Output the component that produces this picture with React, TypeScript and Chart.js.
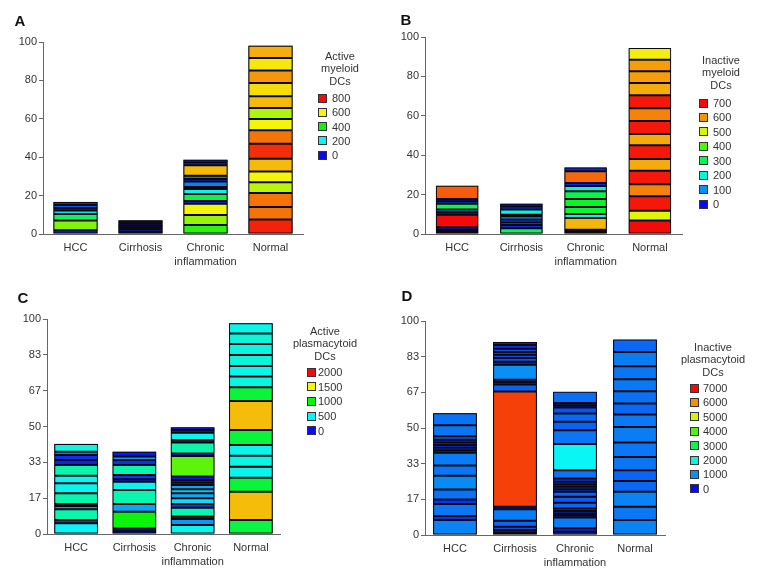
import React, { useEffect, useRef } from "react";
import { Chart, registerables } from "chart.js";
Chart.register(...registerables);

// ---------- data ----------
const categories = [["HCC"], ["Cirrhosis"], ["Chronic", "inflammation"], ["Normal"]];

const tickLabelsAB = ["0", "20", "40", "60", "80", "100"];
const tickLabelsCD = ["0", "17", "33", "50", "67", "83", "100"];

// A: Active myeloid DCs (segment top boundaries in %, and segment intensity)
const aHccTops = [1.9, 7, 10.4, 12.2, 13.5, 15.1, 16.7];
const aHccLevels = [20, 500, 330, 180, 20, 70, 30];
const aCirTops = [1.1, 2.3, 3.1, 4.2, 5.3, 6.2, 7.1];
const aCirLevels = [10, 30, 150, 20, 0, 30, 10];
const aChrTops = [4.7, 9.9, 15.8, 17.2, 20.8, 23.4, 24.5, 27.3, 28.6, 30.4, 35.8, 37.3, 38.7];
const aChrLevels = [430, 520, 600, 30, 350, 210, 20, 100, 20, 90, 650, 40, 20];
const aNorTops = [7.5, 14.1, 21.4, 26.9, 32.6, 39.2, 47, 54, 59.9, 65.6, 71.7, 78.6, 85.2, 91.7, 98.1];
const aNorLevels = [780, 710, 710, 550, 600, 650, 770, 710, 600, 540, 650, 620, 680, 610, 660];
const aLegend = [800, 600, 400, 200, 0];

// B: Inactive myeloid DCs
const bHccTops = [1.1, 2.2, 3.4, 9.8, 11, 12.4, 15.4, 16.6, 17.8, 24.5];
const bHccLevels = [200, 180, 20, 700, 20, 100, 300, 40, 20, 640];
const bCirTops = [2.9, 4.6, 5.9, 7.3, 9, 9.8, 12.4, 13.9, 15.4];
const bCirLevels = [290, 20, 90, 40, 100, 20, 200, 30, 10];
const bChrTops = [1.1, 2.2, 8.1, 10.2, 13.7, 17.8, 21.7, 24.4, 25.9, 31.8, 33.8];
const bChrLevels = [200, 180, 570, 200, 320, 330, 300, 200, 20, 630, 20];
const bNorTops = [6.8, 11.8, 19.1, 25.2, 32.1, 38.1, 45, 50.8, 57.4, 63.8, 70.4, 76.6, 82.6, 88.5, 94.4];
const bNorLevels = [700, 510, 690, 610, 690, 580, 690, 580, 690, 610, 690, 580, 590, 590, 530];
const bLegend = [700, 600, 500, 400, 300, 200, 100, 0];

// C: Active plasmacytoid DCs
const cHccTops = [5, 6.5, 11.5, 13, 14, 18.9, 23.6, 27.1, 32.1, 34.4, 36.7, 38.3, 41.9];
const cHccLevels = [500, 100, 660, 300, 50, 650, 520, 500, 650, 50, 80, 250, 540];
const cCirTops = [1.3, 2.6, 10.4, 14, 20.5, 24.3, 25.5, 27.4, 32.1, 34.4, 36, 38.3];
const cCirLevels = [100, 50, 1000, 330, 650, 520, 50, 100, 650, 80, 300, 30];
const cChrTops = [4.2, 7, 8.1, 12.2, 14, 16.6, 18.9, 20.8, 22.8, 24, 25.1, 26.7, 36.3, 37.5, 42.6, 43.7, 47.1, 48.4, 49.6];
const cChrLevels = [520, 300, 50, 650, 100, 450, 350, 400, 330, 50, 100, 30, 1170, 40, 650, 40, 520, 30, 20];
const cNorTops = [6.5, 19.7, 26.2, 31.3, 36.4, 41.4, 48.4, 61.9, 68.2, 73.2, 78.1, 83.3, 88.4, 93.3, 98];
const cNorLevels = [880, 1620, 900, 520, 540, 520, 900, 1620, 900, 540, 520, 560, 540, 560, 520];
const cLegend = [2000, 1500, 1000, 500, 0];

// D: Inactive plasmacytoid DCs
const dHccTops = [7, 8.9, 14.5, 16.6, 21.3, 27.7, 32.5, 38.4, 39.6, 40.8, 42, 43.2, 44.5, 46.2, 51.3, 56.9];
const dHccLevels = [900, 300, 820, 300, 780, 950, 800, 850, 300, 500, 200, 400, 250, 600, 800, 780];
const dCirTops = [1.2, 2.3, 3.9, 6.7, 12, 13.2, 67, 70.3, 71.5, 72.6, 79.6, 81, 82.7, 84.2, 85.5, 87, 88.8, 90.2];
const dCirLevels = [300, 200, 500, 700, 850, 300, 6600, 650, 200, 300, 1000, 200, 550, 450, 550, 500, 300, 100];
const dChrTops = [1.5, 3.1, 8.2, 9.2, 10.1, 11.2, 12.4, 15.1, 17.9, 20.2, 21.4, 22.6, 23.7, 24.9, 26.4, 30.3, 42.5, 49, 52.9, 56.8, 59.6, 60.6, 61.7, 66.9];
const dChrLevels = [300, 200, 850, 300, 400, 200, 500, 700, 600, 650, 300, 400, 200, 500, 300, 800, 1750, 800, 650, 700, 550, 300, 200, 750];
const dNorTops = [7, 13.2, 20.2, 25.2, 30.3, 36.5, 43.2, 50.5, 56.3, 61.4, 67.2, 72.8, 78.8, 85.5, 91.3];
const dNorLevels = [900, 820, 900, 700, 680, 800, 820, 860, 830, 700, 760, 830, 800, 860, 700];
const dLegend = [7000, 6000, 5000, 4000, 3000, 2000, 1000, 0];

// ---------- styling ----------
const FONT = "'Liberation Sans', Arial, sans-serif";
const TEXT = "#333";
const AXIS = "#666";
const EDGE = "#0a0a10";

function heat(v: number, max: number) {
  const t = Math.max(0, Math.min(1, v / max));
  return `hsl(${240 * (1 - t)}, 92%, 50%)`;
}

// fills a dark backdrop behind each stacked bar so that sub-pixel seams between segments stay dark
const backdropPlugin = {
  id: "stackBackdrop",
  beforeDatasetsDraw(chart: any) {
    const ctx = chart.ctx;
    const n = chart.data.labels.length;
    ctx.save();
    ctx.fillStyle = EDGE;
    for (let i = 0; i < n; i++) {
      let top = Infinity;
      let bottom = -Infinity;
      let x = 0;
      let w = 0;
      chart.data.datasets.forEach((_d: any, k: number) => {
        const el = chart.getDatasetMeta(k).data[i];
        if (!el || el.y == null || isNaN(el.y) || chart.data.datasets[k].data[i] == null) return;
        top = Math.min(top, el.y, el.base);
        bottom = Math.max(bottom, el.y, el.base);
        x = el.x;
        w = el.width;
      });
      if (isFinite(top)) ctx.fillRect(x - w / 2, top, w, bottom - top);
    }
    ctx.restore();
  },
};

type PanelProps = {
  letter: string;
  letterX: number;
  letterY: number;
  left: number;
  top: number;
  width: number;
  height: number;
  yWidth: number;
  xHeight: number;
  padTop: number;
  padRight: number;
  barPct: number;
  tops: number[][];
  levels: number[][];
  max: number;
  tickLabels: string[];
  legendTitle: string[];
  legendValues: number[];
  titleX: number;
  titleY0: number;
  squareX: number;
  textX: number;
  rowY0: number;
  rowStep: number;
};

function Panel(p: PanelProps) {
  const ref = useRef<HTMLCanvasElement>(null);
  useEffect(() => {
    const n = Math.max(...p.tops.map((t) => t.length));
    const datasets: any[] = [];
    for (let k = 0; k < n; k++) {
      datasets.push({
        data: p.tops.map((t) => (k < t.length ? t[k] - (k ? t[k - 1] : 0) : null)),
        backgroundColor: p.levels.map((l) => (k < l.length ? heat(l[k], p.max) : "transparent")),
        borderColor: EDGE,
        borderWidth: 1,
        borderSkipped: false,
        categoryPercentage: 1,
        barPercentage: p.barPct,
      });
    }
    const nt = p.tickLabels.length - 1;
    const chart = new Chart(ref.current as HTMLCanvasElement, {
      type: "bar",
      data: { labels: categories as any, datasets },
      plugins: [backdropPlugin as any],
      options: {
        responsive: false,
        animation: false,
        layout: { padding: { left: 0, top: p.padTop, right: p.padRight, bottom: 0 } },
        plugins: { legend: { display: false }, tooltip: { enabled: false } },
        scales: {
          x: {
            stacked: true,
            grid: { display: false, drawTicks: false },
            border: { display: true, color: AXIS, width: 1 },
            ticks: { font: { family: FONT, size: 11, lineHeight: 1.36 }, color: TEXT, padding: 6, maxRotation: 0, autoSkip: false },
            afterFit: (s: any) => {
              s.height = p.xHeight;
            },
          },
          y: {
            stacked: true,
            min: 0,
            max: 100,
            grid: { display: true, drawOnChartArea: false, drawTicks: true, tickLength: 4, color: AXIS },
            border: { display: true, color: AXIS, width: 1 },
            ticks: {
              font: { family: FONT, size: 11 },
              color: TEXT,
              padding: 2,
              callback: (_v: any, i: number) => p.tickLabels[i],
            },
            afterBuildTicks: (s: any) => {
              s.ticks = p.tickLabels.map((_l, i) => ({ value: (i * 100) / nt }));
            },
            afterFit: (s: any) => {
              s.width = p.yWidth;
            },
          },
        },
      } as any,
    });
    return () => chart.destroy();
  }, []);

  const abs = (x: number, y: number): React.CSSProperties => ({ position: "absolute", left: x, top: y });
  return (
    <>
      <canvas
        ref={ref}
        width={p.width}
        height={p.height}
        style={{ position: "absolute", left: p.left, top: p.top, width: p.width, height: p.height }}
      />
      <div
        style={{
          ...abs(p.letterX, p.letterY),
          transform: "translate(-50%, -50%)",
          font: `bold 15px ${FONT}`,
          color: "#111",
        }}
      >
        {p.letter}
      </div>
      {p.legendTitle.map((line, i) => (
        <div
          key={"t" + i}
          style={{
            ...abs(p.titleX, p.titleY0 + i * 12.3),
            transform: "translate(-50%, -50%)",
            font: `11px ${FONT}`,
            color: TEXT,
            whiteSpace: "nowrap",
            lineHeight: "12px",
          }}
        >
          {line}
        </div>
      ))}
      {p.legendValues.map((v, i) => {
        const cy = p.rowY0 + i * p.rowStep;
        return (
          <React.Fragment key={"l" + i}>
            <div
              style={{
                ...abs(p.squareX, cy - 4.5),
                width: 7,
                height: 7,
                border: "1px solid #333",
                background: heat(v, p.max),
              }}
            />
            <div
              style={{
                ...abs(p.textX, cy - 6),
                font: `11px ${FONT}`,
                color: TEXT,
                lineHeight: "12px",
                whiteSpace: "nowrap",
              }}
            >
              {String(v)}
            </div>
          </React.Fragment>
        );
      })}
    </>
  );
}

export default function App() {
  return (
    <div style={{ position: "absolute", left: 0, top: 0, width: 760, height: 578, background: "#fff" }}>
      <Panel
        letter="A" letterX={20} letterY={20}
        left={0} top={0} width={380} height={275}
        yWidth={43} xHeight={41} padTop={42} padRight={77} barPct={0.68}
        tops={[aHccTops, aCirTops, aChrTops, aNorTops]}
        levels={[aHccLevels, aCirLevels, aChrLevels, aNorLevels]}
        max={800} tickLabels={tickLabelsAB}
        legendTitle={["Active", "myeloid", "DCs"]} legendValues={aLegend}
        titleX={340} titleY0={56} squareX={318} textX={332} rowY0={98} rowStep={14.3}
      />
      <Panel
        letter="B" letterX={406} letterY={19}
        left={380} top={0} width={380} height={275}
        yWidth={45} xHeight={41} padTop={37} padRight={78} barPct={0.66}
        tops={[bHccTops, bCirTops, bChrTops, bNorTops]}
        levels={[bHccLevels, bCirLevels, bChrLevels, bNorLevels]}
        max={700} tickLabels={tickLabelsAB}
        legendTitle={["Inactive", "myeloid", "DCs"]} legendValues={bLegend}
        titleX={721} titleY0={60} squareX={699} textX={713} rowY0={103} rowStep={14.43}
      />
      <Panel
        letter="C" letterX={23} letterY={297}
        left={0} top={280} width={380} height={298}
        yWidth={47} xHeight={44} padTop={39} padRight={100} barPct={0.75}
        tops={[cHccTops, cCirTops, cChrTops, cNorTops]}
        levels={[cHccLevels, cCirLevels, cChrLevels, cNorLevels]}
        max={2000} tickLabels={tickLabelsCD}
        legendTitle={["Active", "plasmacytoid", "DCs"]} legendValues={cLegend}
        titleX={325} titleY0={331} squareX={307} textX={318} rowY0={372} rowStep={14.7}
      />
      <Panel
        letter="D" letterX={407} letterY={295}
        left={380} top={280} width={380} height={298}
        yWidth={45} xHeight={43} padTop={41} padRight={95} barPct={0.73}
        tops={[dHccTops, dCirTops, dChrTops, dNorTops]}
        levels={[dHccLevels, dCirLevels, dChrLevels, dNorLevels]}
        max={7000} tickLabels={tickLabelsCD}
        legendTitle={["Inactive", "plasmacytoid", "DCs"]} legendValues={dLegend}
        titleX={713} titleY0={347} squareX={690} textX={703} rowY0={388} rowStep={14.4}
      />
    </div>
  );
}
